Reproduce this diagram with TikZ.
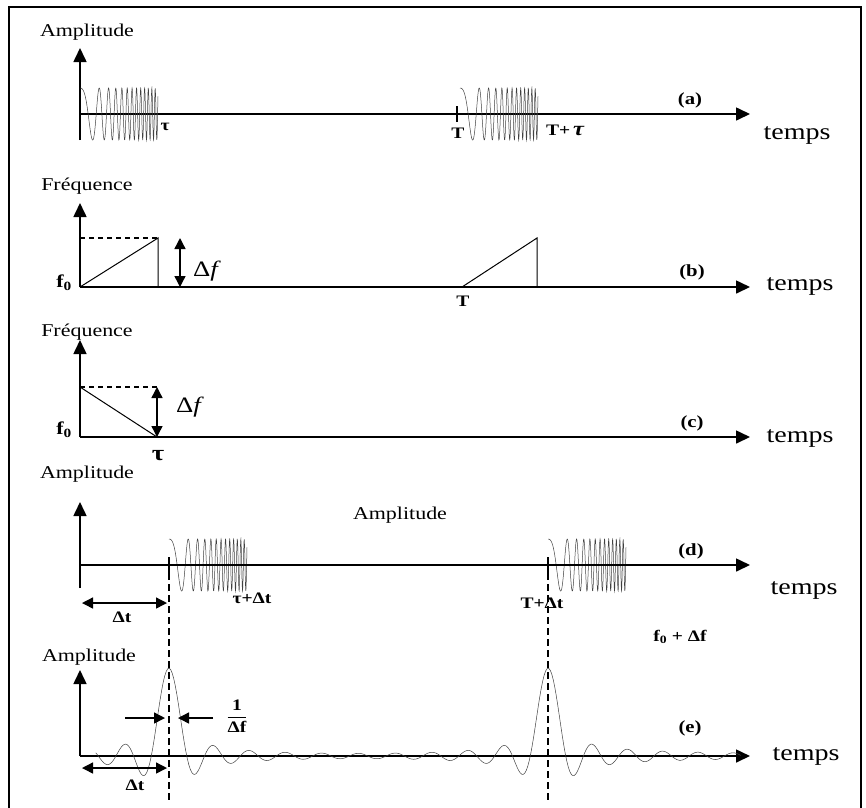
\documentclass[tikz,border=0pt]{standalone}
\usepackage{fontspec}
\setmainfont[FakeStretch=1.22]{Liberation Serif}
\usetikzlibrary{arrows.meta,positioning}

\begin{document}
\begin{tikzpicture}[x=1pt, y=-1pt,
  axe/.style={line width=1.6pt, -{Triangle[length=14pt,width=13pt]}},
  dbl/.style={line width=1.4pt, {Triangle[length=11pt,width=11pt]}-{Triangle[length=11pt,width=11pt]}},
  fleche/.style={line width=1.4pt, -{Triangle[length=11pt,width=11pt]}},
  ramp/.style={line width=1pt},
  pointille/.style={line width=1.1pt, dash pattern=on 5pt off 4pt},
  repere/.style={line width=2.4pt, dash pattern=on 7pt off 4pt},
  signal/.style={line width=0.5pt, black!75},
  axlbl/.style={font=\fontsize{18}{20}\selectfont, inner sep=1pt},
  tps/.style={font=\fontsize{23}{26}\selectfont, inner sep=1pt},
  lbl/.style={font=\fontsize{16}{18}\selectfont\bfseries, inner sep=1pt},
  part/.style={font=\fontsize{17}{19}\selectfont\bfseries, inner sep=1pt},
  big/.style={font=\fontsize{22}{24}\selectfont, inner sep=1pt}]

\useasboundingbox (0,0) rectangle (866,807);
\draw[line width=1.5pt] (9,812) -- (9,7) -- (861,7) -- (861,812);

% (a)
\coordinate (oa) at (80,114);
\coordinate (ba) at (80,140);
\coordinate (ha) at (80,48);
\coordinate (fa) at (750,114);
\coordinate (tah) at (457,106);
\coordinate (tab) at (457,122);
\draw[axe] (ba) -- (ha);
\draw[axe] (oa) -- (fa);
\draw[line width=1.4pt] (tah) -- (tab);
\foreach \xs/\ya in {80/114,460/114,169/565,548/565}
  \draw[signal] plot[domain=0:78, samples=320] ({\xs+\x},{\ya-26*cos(360*(0.015*\x+0.3*\x*\x/156))});
\node[axlbl] (ampa) at (87,32) {Amplitude};
\node[lbl] (taua) at (165,127) {τ};
\node[lbl] (Ta) at (458,133) {T};
\node[lbl] (Ttaua) at (565,130) {T+\,{\fontsize{20}{20}\selectfont\itshape τ}};
\node[part] (la) at (690,100) {(a)};
\node[tps] (tpsa) at (797,135) {temps};

% (b)
\coordinate (ob) at (80,287);
\coordinate (hb) at (80,203);
\coordinate (fb) at (750,287);
\coordinate (db) at (80,238);
\coordinate (rb) at (158,238);
\coordinate (rbb) at (158,287);
\coordinate (Tb) at (462,287);
\coordinate (Tbh) at (537,238);
\coordinate (Tbb) at (537,287);
\coordinate (dfh) at (180,238);
\coordinate (dfb) at (180,287);
\draw[axe] (ob) -- (hb);
\draw[axe] (ob) -- (fb);
\draw[ramp] (ob) -- (rb) -- (rbb);
\draw[pointille] (db) -- (rb);
\draw[ramp] (Tb) -- (Tbh) -- (Tbb);
\draw[dbl] (dfh) -- (dfb);
\node[axlbl] (freqb) at (87,186) {Fréquence};
\node[part, font=\fontsize{18}{20}\selectfont\bfseries] (f0b) at (64,283) {f\textsubscript{0}};
\node[big] (dfb-l) at (207,271) {Δ\textit{f}};
\node[lbl] (Tbl) at (463,301) {T};
\node[part] (lb) at (692,272) {(b)};
\node[tps] (tpsb) at (800,286) {temps};

% (c)
\coordinate (oc) at (80,437);
\coordinate (hc) at (80,340);
\coordinate (fc) at (750,437);
\coordinate (dc) at (80,387);
\coordinate (dch) at (157,387);
\coordinate (tc) at (157,437);
\draw[axe] (oc) -- (hc);
\draw[axe] (oc) -- (fc);
\draw[ramp] (dc) -- (tc);
\draw[pointille] (dc) -- (dch);
\draw[dbl] (dch) -- (tc);
\node[axlbl] (freqc) at (87,332) {Fréquence};
\node[part, font=\fontsize{18}{20}\selectfont\bfseries] (f0c) at (64,430) {f\textsubscript{0}};
\node[big] (dfc) at (190,407) {Δ\textit{f}};
\node[big, font=\fontsize{22}{24}\selectfont\bfseries] (tauc) at (158,456) {τ};
\node[part] (lc) at (692,423) {(c)};
\node[tps] (tpsc) at (800,438) {temps};

% (d)
\coordinate (od) at (80,565);
\coordinate (bd) at (80,588);
\coordinate (hd) at (80,502);
\coordinate (fd) at (750,565);
\coordinate (p1h) at (169,557);
\coordinate (p1m) at (169,573);
\coordinate (p1b) at (169,803);
\coordinate (p2h) at (548,557);
\coordinate (p2m) at (548,573);
\coordinate (p2b) at (548,803);
\coordinate (dt1) at (82,603);
\coordinate (dt2) at (167,603);
\draw[axe] (bd) -- (hd);
\draw[axe] (od) -- (fd);
\draw[line width=2.4pt] (p1h) -- (p1m);
\draw[line width=2.4pt] (p2h) -- (p2m);
\draw[repere] (p1m) -- (p1b);
\draw[repere] (p2m) -- (p2b);
\draw[dbl] (dt1) -- (dt2);
\node[axlbl] (ampd) at (87,474) {Amplitude};
\node[lbl] (dtd) at (122,617) {Δt};
\node[lbl] (taudt) at (252,598) {τ+Δt};
\node[lbl] (Tdt) at (542,603) {T+Δt};
\node[part] (ld) at (691,551) {(d)};
\node[tps] (tpsd) at (804,590) {temps};
\node[axlbl, font=\fontsize{18}{20}\selectfont] (ampm) at (400,515) {Amplitude};
\node[lbl] (f0df) at (680,637) {f\textsubscript{0} + Δf};

% (e)
\coordinate (oe) at (80,756);
\coordinate (he) at (80,670);
\coordinate (fe) at (750,756);
\coordinate (dt3) at (82,768);
\coordinate (dt4) at (167,768);
\coordinate (g1) at (125,718);
\coordinate (g2) at (165,718);
\coordinate (g3) at (213,718);
\coordinate (g4) at (178,718);
\draw[axe] (oe) -- (he);
\draw[axe] (oe) -- (fe);
\draw[signal] plot[domain=95.75:740.75, samples=431]
  (\x, {756-89*(sin(10.285714*(\x-169))/(0.1795196*(\x-169))+sin(10.285714*(\x-548))/(0.1795196*(\x-548)))});
\draw[dbl] (dt3) -- (dt4);
\draw[fleche] (g1) -- (g2);
\draw[fleche] (g3) -- (g4);
\node[axlbl] (ampe) at (89,657) {Amplitude};
\node[lbl] (dte) at (135,785) {Δt};
\node[lbl] (invdf) at (237,718) {\begin{tabular}{@{}c@{}}1\\[1pt]\hline\rule{0pt}{15pt}Δf\end{tabular}};
\node[part] (le) at (690,728) {(e)};
\node[tps] (tpse) at (806,756) {temps};
\end{tikzpicture}
\end{document}
